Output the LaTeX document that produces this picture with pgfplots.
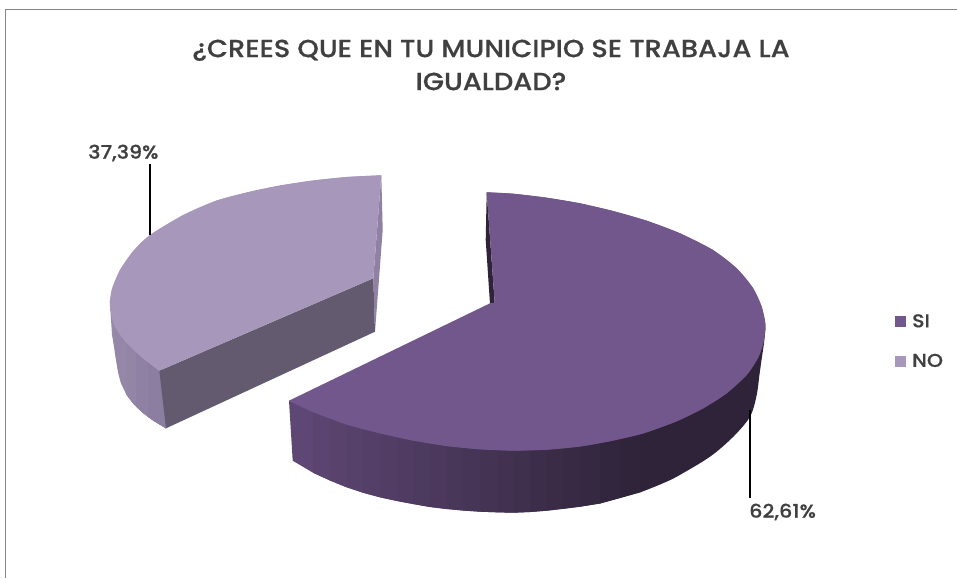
\documentclass[border=0pt]{standalone}
\usepackage{fontspec}
\setmainfont{Poppins Medium}[FakeStretch=1.1,FakeBold=0.5]
\usepackage{pgfplots}
\pgfplotsset{compat=1.18}
\definecolor{darktop}{HTML}{71578C}
\definecolor{lighttop}{HTML}{A797BA}
\definecolor{sideA}{RGB}{96,72,118}
\definecolor{sideB}{RGB}{46,35,56}
\definecolor{front}{HTML}{635A70}
\definecolor{sliver}{HTML}{8F81A3}
\definecolor{txt}{HTML}{404040}
\definecolor{framec}{HTML}{868686}
\newcommand{\wall}[2]{\addplot[forget plot, fill=sideA!#1!sideB, draw=none] coordinates {#2};}
\newcommand{\lwall}[2]{\addplot[forget plot, fill=#1, draw=none] coordinates {#2};}
\begin{document}
\begin{tikzpicture}
\begin{axis}[
  scale only axis, width=957pt, height=578pt,
  xmin=0, xmax=957, ymin=0, ymax=578, y dir=reverse,
  hide axis, clip=true,
  legend style={at={(axis cs:895,312)}, anchor=north west, draw=none, fill=none, font=\fontsize{18.6}{20}\selectfont\color{txt}, row sep=21pt, inner sep=0pt, cells={anchor=west}},
  legend image code/.code={\fill[#1] (0pt,-5.5pt) rectangle (11pt,5.5pt); \path (15pt,0pt);},
]
% page and frame
\addplot[forget plot, fill=white, draw=none] coordinates {(0,0)(957,0)(957,578)(0,578)};
\addplot[forget plot, draw=framec, line width=1pt] coordinates {(5.5,578)(5.5,10)(957,10)};
% NO: walls
\lwall{sliver}{(381.3,175.3)(382.7,230)(375,331.7)(373.3,278.3)}
\lwall{sliver!92!white}{(109.8,300)(160,340)(166,428.3)(154,421)(143,413)(134,404.5)(126.7,395)(121,383)(118.3,373)(115,353)(112,335)}
\lwall{sliver!95!white}{(114,310)(160,340)(166,428.3)(154,421)(143,413)(134,404.5)(126.7,395)(121,383)(118.3,373)(115,353)}
\lwall{sliver!97!white}{(126.7,320)(160,340)(166,428.3)(154,421)(143,413)(134,404.5)(126.7,395)}
\lwall{sliver}{(136,330)(160,340)(166,428.3)(154,421)(143,413)(136,406.5)}
\lwall{sliver!98!black}{(148,340)(160,340)(166,428.3)(154,421)(148,417)}
\lwall{front}{(159.3,370.7)(373.3,278.3)(375,331.7)(166,428.3)}
% SI: walls
\wall{97}{(289,400.7)(330,416)(330,480.5)(313,472.7)(292.7,460.7)}
\wall{91}{(313,408.7)(346.7,422)(346.7,487.3)(330,480.5)(313,472.7)}
\wall{86}{(330,416)(363,426.5)(363,492.7)(346.7,487.3)(330,480.5)}
\wall{81}{(346.7,422)(380,430.3)(380,497.3)(363,492.7)(346.7,487.3)}
\wall{77}{(363,426.5)(397,434)(397,501)(380,497.3)(363,492.7)}
\wall{72}{(380,430.3)(413,437)(413,504)(397,501)(380,497.3)}
\wall{67}{(397,434)(430,440.5)(430,507)(413,504)(397,501)}
\wall{63}{(413,437)(446.7,443)(446.7,509)(430,507)(413,504)}
\wall{58}{(430,440.5)(463,445)(463,510.5)(446.7,509)(430,507)}
\wall{53}{(446.7,443)(480,446.3)(480,511.7)(463,510.5)(446.7,509)}
\wall{48}{(463,445)(497,447.3)(497,512.3)(480,511.7)(463,510.5)}
\wall{43}{(480,446.3)(513,447.7)(513,512.7)(497,512.3)(480,511.7)}
\wall{39}{(497,447.3)(530,447)(530,512)(513,512.7)(497,512.3)}
\wall{34}{(513,447.7)(546.7,446.5)(546.7,510.7)(530,512)(513,512.7)}
\wall{29}{(530,447)(563,445)(563,508.8)(546.7,510.7)(530,512)}
\wall{24}{(546.7,446.5)(580,443.5)(580,506.7)(563,508.8)(546.7,510.7)}
\wall{20}{(563,445)(600,440.5)(600,503.5)(580,506.7)(563,508.8)}
\wall{14}{(580,443.5)(620,436.5)(620,498)(600,503.5)(580,506.7)}
\wall{9}{(600,440.5)(640,432.8)(640,492.5)(620,498)(600,503.5)}
\wall{3}{(620,436.5)(660,424)(660,484)(640,492)(620,498)}
\wall{0}{(640,430)(700,400)(750,360)(764,327)(760,370)(755,395)(748,416)(732,436)(708,456)(676,475)(640,491)}
\addplot[forget plot, fill=sideB, draw=none, smooth] coordinates {(640,492.5)(660,484.5)(676.7,476.7)(710,456.7)(733.3,436.7)(750,416.7)(756.7,395)(760,370)(764,343)(765.5,327)};
\wall{0}{(486.7,192.3)(485.7,240)(490,304)(494.7,302.7)}
% SI: top face
\addplot[forget plot, fill=darktop, draw=none] coordinates {
(486.7,192.3)(513,193.7)(546.7,197.7)(580,203.3)(613,211)(646.7,220.7)(680,233.3)(713,250)(736.7,268.3)(753,288)(761.7,306.7)(765.5,325)(763.3,343)(758,358)(746.7,375)(726.7,393.3)(703.3,408.3)(676.7,421.3)(643,433.5)(610,441.2)(580,446.5)(546.7,449.7)(513,450.7)(480,449.3)(446.7,446)(413,440.5)(380,433.3)(346.7,424.5)(313,412)(289,400.7)(490,303.3)(494.7,302.7)};
\addplot[fill=darktop, draw=none, smooth] coordinates {
(486.7,192.3)(513,193.7)(546.7,197.7)(580,203.3)(613,211)(646.7,220.7)(680,233.3)(713,250)(736.7,268.3)(753,288)(761.7,306.7)(765.5,325)(763.3,343)(758,358)(746.7,375)(726.7,393.3)(703.3,408.3)(676.7,421.3)(643,433.5)(610,441.2)(580,446.5)(546.7,449.7)(513,450.7)};
\addlegendentry{SI}
\addplot[forget plot, fill=darktop, draw=none, smooth] coordinates {(513,450.7)(480,449.3)(446.7,446)(413,440.5)(380,433.3)(346.7,424.5)(313,412)(289,400.7)};
% NO: top face
\addplot[forget plot, fill=lighttop, draw=none] coordinates {
(381.3,175.3)(346.7,177)(313,180.5)(280,185.5)(250,191.7)(216.7,200.5)(183.3,215)(150,235)(133.3,251)(120,270)(111.7,290)(110,307)(115,326.7)(126.7,343)(143,358.3)(159.3,370.7)(373.3,278.3)};
\addplot[fill=lighttop, draw=none, smooth] coordinates {
(381.3,175.3)(346.7,177)(313,180.5)(280,185.5)(250,191.7)(216.7,200.5)(183.3,215)(150,235)(133.3,251)(120,270)(111.7,290)(110,307)(115,326.7)(126.7,343)(143,358.3)(159.3,370.7)};
\addlegendentry{NO}
% leader lines
\addplot[forget plot, black, line width=1.8pt] coordinates {(150,164)(150,235)};
\addplot[forget plot, black, line width=1.8pt] coordinates {(749.7,410)(749.7,498)};
% text
\node[font=\fontsize{24.8}{33}\selectfont, text=txt, align=center, anchor=center] at (axis cs:491,65) {¿CREES QUE EN TU MUNICIPIO SE TRABAJA LA\\IGUALDAD?};
\node[font=\fontsize{18.8}{20}\selectfont, text=txt, anchor=west, inner sep=0pt] at (axis cs:88,153) {37,39\%};
\node[font=\fontsize{18.8}{20}\selectfont, text=txt, anchor=west, inner sep=0pt] at (axis cs:749,512) {62,61\%};
\end{axis}
\end{tikzpicture}
\end{document}
